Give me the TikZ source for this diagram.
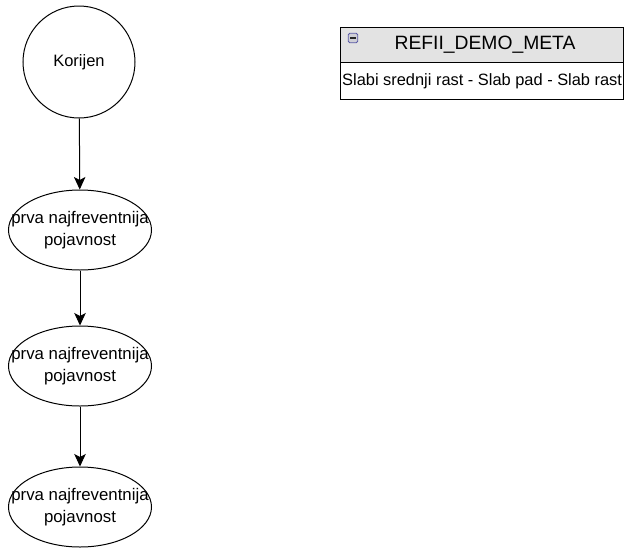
\documentclass[tikz,border=0pt]{standalone}
\usepackage{fontspec}
\setmainfont{Liberation Sans}
\usetikzlibrary{arrows.meta,shapes.geometric}
\begin{document}
\begin{tikzpicture}[x=1pt,y=-1pt,
  circ/.style={draw,circle,minimum size=112pt,inner sep=0pt,line width=1pt,font=\fontsize{16.5}{20}\selectfont},
  ell/.style={draw,ellipse,minimum width=143pt,minimum height=80pt,inner sep=0pt,line width=1pt},
  etext/.style={align=center,inner sep=0pt,font=\fontsize{16.8}{21.5}\selectfont},
  conn/.style={-{Stealth[length=12.5pt,width=11.5pt,inset=3pt]},line width=1pt}]
\useasboundingbox (0,0) rectangle (624,547);
\node[circ] (root) at (79,62) {Korijen};
\node[ell] (e1) at (80,230) {};
\node[etext] (e1t) at (e1.center) {prva najfreventnija\\pojavnost};
\node[ell] (e2) at (80,366) {};
\node[etext] (e2t) at (e2.center) {prva najfreventnija\\pojavnost};
\node[ell] (e3) at (80,507) {};
\node[etext] (e3t) at (e3.center) {prva najfreventnija\\pojavnost};
\draw[conn] (root) -- (e1);
\draw[conn] (e1) -- (e2);
\draw[conn] (e2) -- (e3);
% table
\fill[gray!22] (340,27) rectangle (624,62);
\draw[line width=1pt] (340,27) rectangle (623.5,99);
\draw[line width=1pt] (340,62) -- (623.5,62);
\node[font=\fontsize{19.3}{22}\selectfont] (title) at (485,45) {REFII\_DEMO\_META};
\node[font=\fontsize{16.4}{19}\selectfont,anchor=west,inner sep=0pt] (body) at (342,81) {Slabi srednji rast - Slab pad - Slab rast};
\node[draw=blue!30!gray,fill=blue!8!gray!35,rounded corners=1.5pt,minimum size=9.5pt,inner sep=0pt,line width=0.8pt] (icon) at (353,38) {};
\draw[line width=1.2pt,gray!30!black] (350,38) -- (356,38);
\end{tikzpicture}
\end{document}
